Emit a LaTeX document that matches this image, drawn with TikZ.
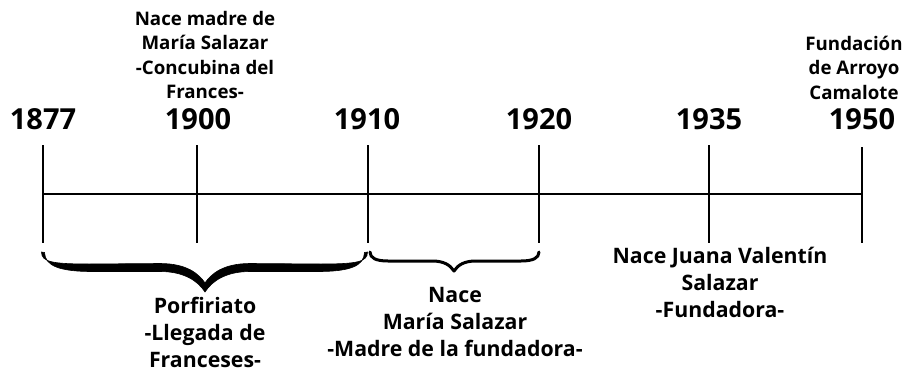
\documentclass[tikz,border=0pt]{standalone}
\usepackage{fontspec}
\setmainfont{Open Sans}
\begin{document}
\begin{tikzpicture}[x=1pt,y=-1pt,
  yearlbl/.style={font=\fontsize{29}{30}\selectfont\bfseries, inner sep=0pt, anchor=base},
  toplbl/.style={font=\fontsize{18.7}{24.5}\selectfont\bfseries, inner sep=0pt, anchor=base, align=center},
  botlbl/.style={font=\fontsize{21.3}{27}\selectfont\bfseries, inner sep=0pt, anchor=base, align=center},
  axisline/.style={line width=2.6pt},
  tickline/.style={line width=2.6pt},
  bigbrace/.style={fill=black, draw=black, line width=0.6pt, line join=round},
  smallbrace/.style={line width=3pt, line cap=round, line join=round}]
\useasboundingbox (0,0) rectangle (911,375);
% tick coordinates
\coordinate (atop) at (43,145);  \coordinate (abot) at (43,243);  \coordinate (amid) at (43,194);
\coordinate (btop) at (197,145); \coordinate (bbot) at (197,243);
\coordinate (ctop) at (368,145); \coordinate (cbot) at (368,243);
\coordinate (dtop) at (539,145); \coordinate (dbot) at (539,243);
\coordinate (etop) at (709,145); \coordinate (ebot) at (709,243);
\coordinate (ftop) at (862,147); \coordinate (fbot) at (862,243); \coordinate (fmid) at (862,194);
\draw[axisline] (amid) -- (fmid);
\draw[tickline] (atop) -- (abot);
\draw[tickline] (btop) -- (bbot);
\draw[tickline] (ctop) -- (cbot);
\draw[tickline] (dtop) -- (dbot);
\draw[tickline] (etop) -- (ebot);
\draw[tickline] (ftop) -- (fbot);
% years
\node[yearlbl] (y1877) at (43,129) {1877};
\node[yearlbl] (y1900) at (198,129) {1900};
\node[yearlbl] (y1910) at (367,129) {1910};
\node[yearlbl] (y1920) at (539,129) {1920};
\node[yearlbl] (y1935) at (709,129) {1935};
\node[yearlbl] (y1950) at (862,129) {1950};
% top labels (anchor = baseline of last line)
\node[toplbl] (madre) at (205,98.5) {Nace madre de\\María Salazar\\-Concubina del\\Frances-};
\node[toplbl] (fund) at (854,99) {Fundación\\de Arroyo\\Camalote};
% braces
\path[bigbrace] (41.5,252) .. controls (41.5,262) and (52,264) .. (90,264) -- (160,263.5)
  .. controls (187,263.5) and (199,274) .. (205,283)
  .. controls (211,274) and (223,263.5) .. (250,263.5) -- (320,264)
  .. controls (357,264) and (367.5,262) .. (367.5,252)
  -- (364.5,252.5) .. controls (364,266) and (350,271.5) .. (318,271.5) -- (250,271.5)
  .. controls (226,271.5) and (212,281) .. (205,292)
  .. controls (198,281) and (184,271.5) .. (160,271.5) -- (92,271.5)
  .. controls (60,271.5) and (45,266) .. (44.5,252.5) -- cycle;
\draw[smallbrace] (370,252) .. controls (370,258) and (376,261) .. (388,261) -- (432,261)
  .. controls (444,261) and (450,265) .. (454,271)
  .. controls (458,265) and (464,261) .. (476,261) -- (521,261)
  .. controls (533,261) and (539,258) .. (539,252);
% bottom labels
\node[botlbl] (porf) at (205,367) {Porfiriato\\-Llegada de\\Franceses-};
\node[botlbl] (maria) at (455,356) {Nace\\María Salazar\\-Madre de la fundadora-};
\node[botlbl] (juana) at (720,317) {Nace Juana Valentín\\Salazar\\-Fundadora-};
\end{tikzpicture}
\end{document}
